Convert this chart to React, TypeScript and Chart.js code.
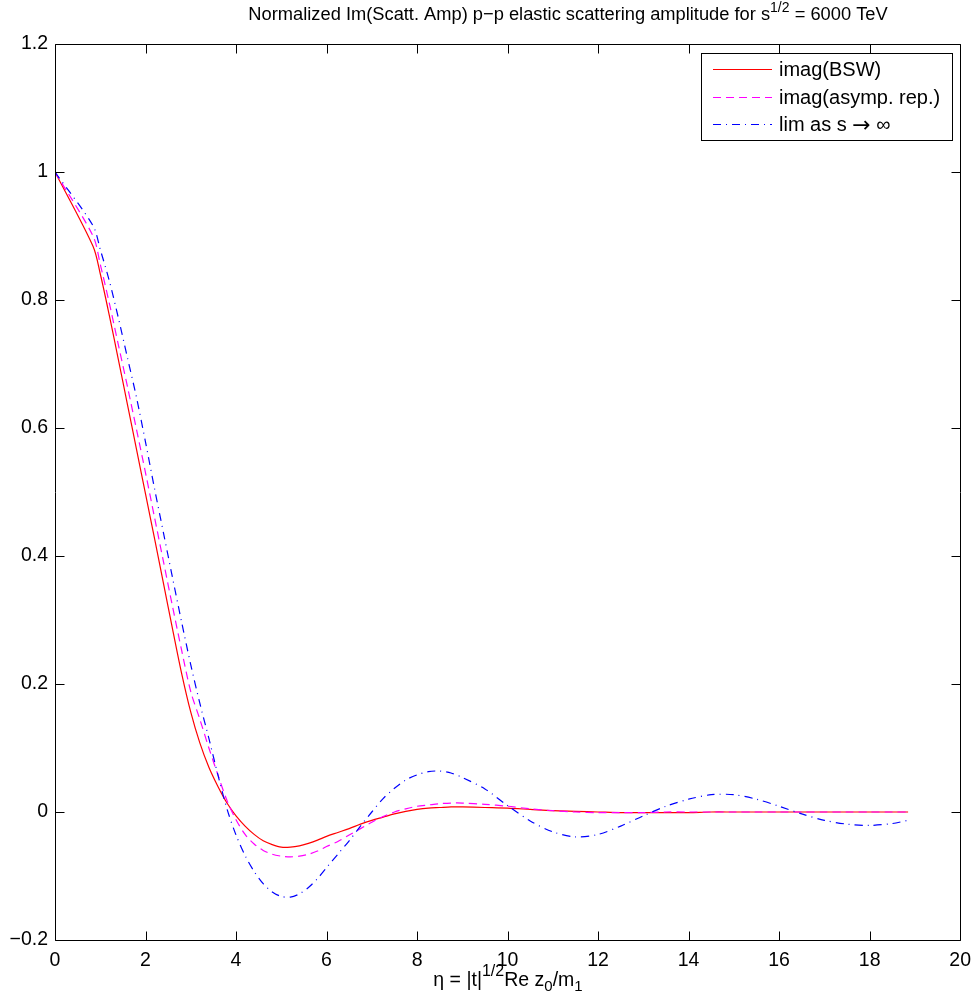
import React, { useEffect, useRef } from "react";
import { Chart, registerables } from "chart.js";

Chart.register(...registerables);

// eta grid (x values)
const eta = [0, 0.84, 1.0, 1.2, 1.4, 1.6, 1.8, 2.0, 2.2, 2.4, 2.6, 2.8, 3.0, 3.2, 3.4, 3.6, 3.8, 4.0, 4.2, 4.4, 4.6, 4.8, 5.0, 5.2, 5.4, 5.6, 5.8, 6.0, 6.25, 6.5, 6.75, 7.0, 7.25, 7.5, 7.75, 8.0, 8.25, 8.5, 8.75, 9.0, 9.5, 10.0, 10.5, 11.0, 11.5, 12.0, 12.5, 13.0, 13.5, 14.0, 14.5, 15.0, 15.5, 16.0, 16.5, 17.0, 17.5, 18.0, 18.5, 18.85];

const imagBSW = [1.0, 0.884, 0.841, 0.776, 0.707, 0.637, 0.567, 0.497, 0.427, 0.356, 0.285, 0.216, 0.156, 0.108, 0.07, 0.04, 0.014, -0.006, -0.022, -0.035, -0.045, -0.051, -0.055, -0.055, -0.053, -0.049, -0.044, -0.038, -0.032, -0.026, -0.019, -0.013, -0.008, -0.003, 0.001, 0.004, 0.006, 0.007, 0.008, 0.008, 0.007, 0.006, 0.004, 0.002, 0.001, 0.0, -0.001, -0.001, -0.001, -0.001, 0.0, 0.0, 0.0, 0.0, 0.0, 0.0, 0.0, 0.0, 0.0, 0.0];

const imagAsymp = [1.0, 0.9, 0.856, 0.795, 0.73, 0.665, 0.598, 0.53, 0.46, 0.39, 0.32, 0.252, 0.188, 0.145, 0.1, 0.058, 0.018, -0.012, -0.035, -0.05, -0.06, -0.066, -0.069, -0.07, -0.069, -0.066, -0.061, -0.054, -0.046, -0.036, -0.026, -0.016, -0.007, 0.0, 0.005, 0.009, 0.011, 0.013, 0.014, 0.014, 0.012, 0.009, 0.005, 0.002, 0.0, -0.001, -0.001, -0.001, 0.0, 0.0, 0.0, 0.0, 0.0, 0.0, 0.0, 0.0, 0.0, 0.0, 0.0, 0.0];

const limInf = [1.0, 0.916, 0.879, 0.83, 0.772, 0.71, 0.648, 0.578, 0.505, 0.435, 0.365, 0.296, 0.23, 0.17, 0.115, 0.058, 0.005, -0.036, -0.068, -0.093, -0.112, -0.125, -0.132, -0.133, -0.128, -0.118, -0.104, -0.087, -0.066, -0.045, -0.022, 0.0, 0.021, 0.037, 0.05, 0.058, 0.063, 0.064, 0.061, 0.054, 0.036, 0.01, -0.014, -0.031, -0.039, -0.035, -0.022, -0.006, 0.009, 0.02, 0.027, 0.027, 0.02, 0.009, -0.003, -0.013, -0.019, -0.021, -0.018, -0.013];

const xTicks = [0, 2, 4, 6, 8, 10, 12, 14, 16, 18, 20];
const yTicks = [-0.2, 0, 0.2, 0.4, 0.6, 0.8, 1.0, 1.2];
const seriesLabels = ["imag(BSW)", "imag(asymp. rep.)", "lim as s \u2192 \u221e"];
const seriesColors = ["#ff0000", "#ff00ff", "#0000ff"];
const seriesDashes: number[][] = [[], [8, 5], [8, 5, 1, 5]];

const FONT = "'Liberation Sans', Arial, Helvetica, sans-serif";

type Part = { t: string; s: number; dy: number };

function drawRich(ctx: CanvasRenderingContext2D, parts: Part[], cx: number, y: number) {
  let total = 0;
  for (const p of parts) {
    ctx.font = `${p.s}px ${FONT}`;
    total += ctx.measureText(p.t).width;
  }
  let x = cx - total / 2;
  ctx.textAlign = "left";
  ctx.textBaseline = "alphabetic";
  ctx.fillStyle = "#000";
  for (const p of parts) {
    ctx.font = `${p.s}px ${FONT}`;
    ctx.fillText(p.t, x, y + p.dy);
    x += ctx.measureText(p.t).width;
  }
}

const decorPlugin = {
  id: "decor",
  afterDraw(chart: any) {
    const ctx: CanvasRenderingContext2D = chart.ctx;
    const { left, right, top, bottom } = chart.chartArea;
    const xs = chart.scales.x;
    const ys = chart.scales.y;
    ctx.save();
    ctx.strokeStyle = "#000";
    ctx.lineWidth = 1;
    ctx.setLineDash([]);
    const L = Math.round(left) + 0.5;
    const R = Math.round(right) + 0.5;
    const T = Math.round(top) + 0.5;
    const B = Math.round(bottom) + 0.5;
    ctx.beginPath();
    ctx.rect(L, T, R - L, B - T);
    ctx.stroke();
    const tl = 9;
    ctx.beginPath();
    for (const v of xTicks) {
      const px = Math.round(xs.getPixelForValue(v)) + 0.5;
      ctx.moveTo(px, B);
      ctx.lineTo(px, B - tl);
      ctx.moveTo(px, T);
      ctx.lineTo(px, T + tl);
    }
    for (const v of yTicks) {
      const py = Math.round(ys.getPixelForValue(v)) + 0.5;
      ctx.moveTo(L, py);
      ctx.lineTo(L + tl, py);
      ctx.moveTo(R, py);
      ctx.lineTo(R - tl, py);
    }
    ctx.stroke();

    // Title
    drawRich(
      ctx,
      [
        { t: "Normalized Im(Scatt. Amp) p\u2212p elastic scattering amplitude for s", s: 18.3, dy: 0 },
        { t: "1/2", s: 14, dy: -8 },
        { t: " = 6000 TeV", s: 18.3, dy: 0 },
      ],
      568,
      20
    );

    // X label
    drawRich(
      ctx,
      [
        { t: "\u03b7 = |t|", s: 19.5, dy: 0 },
        { t: "1/2", s: 16, dy: -10 },
        { t: "Re z", s: 19.5, dy: 0 },
        { t: "0", s: 15, dy: 5 },
        { t: "/m", s: 19.5, dy: 0 },
        { t: "1", s: 15, dy: 5 },
      ],
      508,
      986
    );

    // Legend
    const bx = 701.5, by = 53.5, bw = 251, bh = 87;
    ctx.fillStyle = "#fff";
    ctx.fillRect(bx, by, bw, bh);
    ctx.strokeStyle = "#000";
    ctx.lineWidth = 1;
    ctx.strokeRect(bx, by, bw, bh);
    const rows = [69, 97, 124];
    for (let i = 0; i < 3; i++) {
      ctx.beginPath();
      ctx.strokeStyle = seriesColors[i];
      ctx.lineWidth = 1.2;
      ctx.setLineDash(seriesDashes[i]);
      ctx.moveTo(713, rows[i] + 0.5);
      ctx.lineTo(772, rows[i] + 0.5);
      ctx.stroke();
      ctx.setLineDash([]);
      ctx.fillStyle = "#000";
      ctx.textAlign = "left";
      ctx.textBaseline = "middle";
      if (i === 2) {
        // "lim as s → ∞" with a larger symbol-style arrow
        let x = 779;
        ctx.font = `20px ${FONT}`;
        ctx.fillText("lim as s ", x, rows[i] + 1);
        x += ctx.measureText("lim as s ").width;
        ctx.font = `22px 'DejaVu Sans', ${FONT}`;
        ctx.fillText("\u2192", x, rows[i] + 2);
        x += ctx.measureText("\u2192").width;
        ctx.font = `20px ${FONT}`;
        ctx.fillText(" \u221e", x, rows[i] + 1);
      } else {
        ctx.font = `20px ${FONT}`;
        ctx.fillText(seriesLabels[i], 779, rows[i] + 1);
      }
    }
    ctx.restore();
  },
};

export default function App() {
  const ref = useRef<HTMLCanvasElement | null>(null);
  useEffect(() => {
    document.body.style.margin = "0";
    const canvas = ref.current;
    if (!canvas) return;
    const seriesData = [imagBSW, imagAsymp, limInf];
    const chart = new Chart(canvas, {
      type: "line",
      data: {
        datasets: seriesData.map((arr, i) => ({
          label: seriesLabels[i],
          data: eta.map((x, j) => ({ x, y: arr[j] })),
          borderColor: seriesColors[i],
          borderWidth: 1.2,
          borderDash: seriesDashes[i],
          pointRadius: 0,
          fill: false,
          tension: 0.3,
          order: 3 - i,
        })),
      },
      options: {
        animation: false,
        responsive: false,
        maintainAspectRatio: false,
        layout: { padding: { left: 0, right: 17, top: 44, bottom: 0 } },
        plugins: { legend: { display: false }, tooltip: { enabled: false }, title: { display: false } },
        scales: {
          x: {
            type: "linear",
            min: 0,
            max: 20,
            afterBuildTicks: (s: any) => {
              s.ticks = xTicks.map((v) => ({ value: v }));
            },
            afterFit: (s: any) => {
              s.height = 65;
            },
            grid: { display: false, drawTicks: false },
            border: { display: false },
            ticks: {
              padding: 9,
              color: "#000",
              maxRotation: 0,
              autoSkip: false,
              font: { family: FONT, size: 19.5 },
              callback: (v: any) => String(v),
            },
          },
          y: {
            type: "linear",
            min: -0.2,
            max: 1.2,
            afterBuildTicks: (s: any) => {
              s.ticks = yTicks.map((v) => ({ value: v }));
            },
            afterFit: (s: any) => {
              s.width = 55;
            },
            grid: { display: false, drawTicks: false },
            border: { display: false },
            ticks: {
              padding: 7,
              color: "#000",
              autoSkip: false,
              font: { family: FONT, size: 19.5 },
              callback: (v: any) => String(Number(Number(v).toFixed(1))).replace("-", "\u2212"),
            },
          },
        },
      },
      plugins: [decorPlugin],
    });
    return () => chart.destroy();
  }, []);
  return (
    <div style={{ width: 980, height: 1005, background: "#fff" }}>
      <canvas ref={ref} width={980} height={1005} style={{ display: "block", width: 980, height: 1005 }} />
    </div>
  );
}
